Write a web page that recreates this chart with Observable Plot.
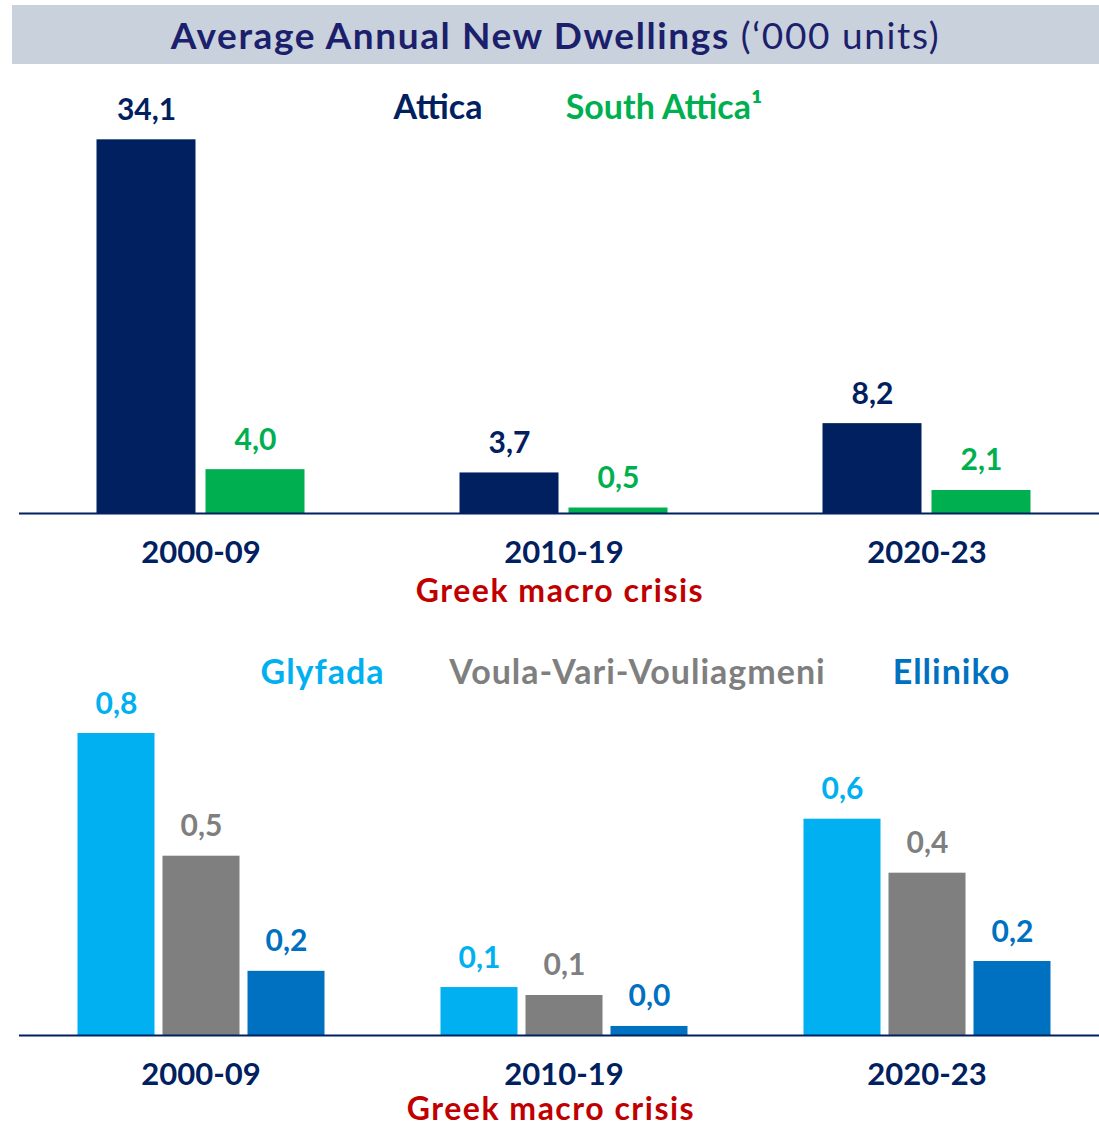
<!DOCTYPE html>
<html><head><meta charset="utf-8">
<script src="https://cdn.jsdelivr.net/npm/d3@7"></script>
<script src="https://cdn.jsdelivr.net/npm/@observablehq/plot@0.6"></script>
<style>
body{margin:0;width:1099px;height:1125px;overflow:hidden;background:#fff;font-family:Lato,sans-serif;position:relative}
#title{position:absolute;left:12px;top:5px;width:1087px;height:59px;background:#c9d1dc;display:flex;align-items:center;justify-content:center;font-size:37px;letter-spacing:1.6px;color:#1c1f6c;white-space:pre}
.abs{position:absolute;white-space:nowrap;font-weight:700;transform:translate(-50%,-50%);line-height:1}
#top,#bottom{position:absolute;left:0}
</style></head><body>
<div id="title"><span><b>Average Annual New Dwellings</b> (‘000 units)</span></div>
<div id="top" style="top:70px"></div>
<div id="bottom" style="top:620px"></div>
<script>
const periods = ["2000-09", "2010-19", "2020-23"];
const crisisLabel = "Greek macro crisis";
const topSeries = ["Attica", "South Attica"];
const topLegend = ["Attica", "South Attica¹"];
const topColors = ["#002060", "#00b050"];
const attica = [34.1, 3.7, 8.2];
const southAttica = [4.0, 0.5, 2.1];
const bottomSeries = ["Glyfada", "Voula-Vari-Vouliagmeni", "Elliniko"];
const bottomColors = ["#00b0f0", "#7f7f7f", "#0070c0"];
const glyfada = [0.80, 0.127, 0.573];
const voula = [0.475, 0.106, 0.43];
const elliniko = [0.17, 0.024, 0.196];

const navy = "#002060";
const fmt = v => v.toFixed(1).replace(".", ",");

function build(seriesNames, seriesValues) {
  const rows = [];
  periods.forEach((p, i) => seriesNames.forEach((s, j) => rows.push({period: p, series: s, value: seriesValues[j][i]})));
  return rows;
}

function chart(rows, seriesNames, colors, opts) {
  return Plot.plot({
    width: 1099,
    height: opts.height,
    marginLeft: 18.5,
    marginRight: -8.5,
    marginTop: 20,
    marginBottom: opts.marginBottom,
    style: {fontFamily: "Lato, sans-serif", overflow: "visible", background: "transparent"},
    fx: {domain: periods, padding: 0},
    x: {domain: seriesNames, paddingInner: opts.pi, paddingOuter: opts.po, axis: null},
    y: {domain: [0, opts.ymax], axis: null},
    color: {domain: seriesNames, range: colors},
    marks: [
      Plot.barY(rows, {fx: "period", x: "series", y: "value", fill: "series"}),
      Plot.ruleY([0], {stroke: navy, strokeWidth: 2}),
      Plot.text(rows, {fx: "period", x: "series", y: "value", text: d => fmt(d.value), fill: "series",
        lineAnchor: "bottom", dy: -20, fontSize: 30, fontWeight: "bold"}),
      Plot.axisFx({anchor: "bottom", tickSize: 0, tickPadding: 27, fontSize: 31, fontWeight: "bold", fill: navy, label: null})
    ]
  });
}

document.getElementById("top").append(chart(build(topSeries, [attica, southAttica]), topSeries, topColors,
  {height: 540, marginBottom: 97, ymax: 38.6, pi: 10/110, po: 0.6955}));
document.getElementById("bottom").append(chart(build(bottomSeries, [glyfada, voula, elliniko]), bottomSeries, bottomColors,
  {height: 480, marginBottom: 65, ymax: 1.0464, pi: 8/85, po: 0.682}));

function label(text, x, y, color, size, spacing) {
  const d = document.createElement("div");
  d.className = "abs";
  d.textContent = text;
  d.style.left = x + "px"; d.style.top = y + "px"; d.style.color = color; d.style.fontSize = size + "px";
  d.style.letterSpacing = spacing + "px";
  document.body.append(d);
}
const topLegendPos = [[438, 106], [664, 106]];
topLegend.forEach((t, i) => label(t, topLegendPos[i][0], topLegendPos[i][1], topColors[i], 34, 0));
const bottomLegendPos = [[322.5, 671], [637.5, 671], [951.5, 671]];
bottomSeries.forEach((t, i) => label(t, bottomLegendPos[i][0], bottomLegendPos[i][1], bottomColors[i], 34, 1));
label(crisisLabel, 560, 590, "#c00000", 32, 1.5);
label(crisisLabel, 551, 1108, "#c00000", 32, 1.5);
</script>
</body></html>
